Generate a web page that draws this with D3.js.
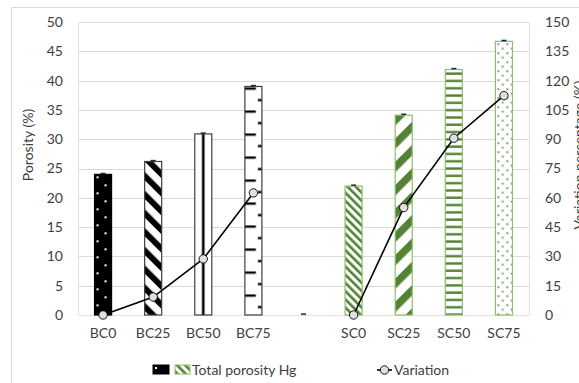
<!DOCTYPE html>
<head>
<meta charset="utf-8">
<script src="https://d3js.org/d3.v7.min.js"></script>
<style>
    *{ margin:0; padding:0; }
    body{ background:#fff; width:579px; height:383px; overflow:hidden; }
    svg text{ font-family: Lato, 'Noto Sans', sans-serif; fill:#404040; }
</style>
</head>
<body>
<svg id="chart" width="579" height="383"></svg>
<script>
    //data
    let categories = ["BC0", "BC25", "BC50", "BC75", "", "SC0", "SC25", "SC50", "SC75"];
    let porosity = [24.0, 26.2, 30.9, 39.0, 0, 22.0, 34.1, 41.9, 46.7];
    let errBars = [0.15, 0.15, 0.15, 0.15, 0.15, 0.15, 0.15, 0.15, 0.15];
    let variation = [0, 9.2, 28.7, 62.5, null, 0, 55.0, 90.5, 112.3];
    let leftTicks = [0, 5, 10, 15, 20, 25, 30, 35, 40, 45, 50];
    let rightTicks = [0, 15, 30, 45, 60, 75, 90, 105, 120, 135, 150];
    let patterns = ["dotsInv", "wideDown", "vert", "dashH", "none", "narrowDown", "wideUp", "horiz", "dots"];

    let svg = d3.select("#chart");
    let green = "#548235", greenEdge = "#8cbf68";

    //plot area
    let pLeft = 78, pRight = 529, pTop = 22, pBottom = 315;

    let x = d3.scaleBand()
        .domain(categories.map((c, i) => i))
        .range([pLeft, pRight])
        .paddingInner(0.66)
        .paddingOuter(0.33);
    let yL = d3.scaleLinear().domain([0, 50]).range([pBottom, pTop]);
    let yR = d3.scaleLinear().domain([0, 150]).range([pBottom, pTop]);

    //chart area border
    svg.append("path")
        .attr("d", "M11.5,383 V7.5 H579")
        .attr("fill", "none")
        .attr("stroke", "#d9d9d9");

    //gridlines
    svg.append("g").selectAll("line")
        .data(leftTicks)
        .enter().append("line")
        .attr("x1", pLeft).attr("x2", pRight)
        .attr("y1", d => Math.round(yL(d)) + 0.5)
        .attr("y2", d => Math.round(yL(d)) + 0.5)
        .attr("stroke", (d) => d == 0 ? "#bfbfbf" : "#d9d9d9");

    svg.append("rect")
        .attr("x", pLeft + 0.5).attr("y", pTop + 0.5)
        .attr("width", pRight - pLeft).attr("height", pBottom - pTop)
        .attr("fill", "none").attr("stroke", "#e3e3e3");

    //patterns, one per bar so that each starts at its bar
    let defs = svg.append("defs");
    let bw = x.bandwidth();

    let makePattern = (name, id, bx, by) => {
        let p = defs.append("pattern").attr("id", id).attr("patternUnits", "userSpaceOnUse");
        let bg = (w, h, c) => p.append("rect").attr("width", w).attr("height", h).attr("fill", c);
        if (name == "dotsInv") {
            p.attr("width", 16).attr("height", 16).attr("x", bx).attr("y", by);
            bg(16, 16, "#000");
            p.append("rect").attr("x", 2).attr("y", 2).attr("width", 2).attr("height", 2).attr("fill", "#fff");
            p.append("rect").attr("x", 10).attr("y", 10).attr("width", 2).attr("height", 2).attr("fill", "#fff");
        } else if (name == "wideDown" || name == "wideUp" || name == "narrowDown") {
            let period = name == "narrowDown" ? 5.8 : (name == "wideUp" ? 16.5 : 13.2);
            let col = name == "wideDown" ? "#000" : green;
            p.attr("width", period).attr("height", period)
                .attr("x", bx).attr("y", by)
                .attr("patternTransform", `rotate(${name == "wideUp" ? 45 : -45} ${bx} ${by})`);
            bg(period, period, "#fff");
            p.append("rect").attr("width", period * 0.45).attr("height", period).attr("fill", col);
        } else if (name == "vert") {
            p.attr("width", bw).attr("height", 10).attr("x", bx).attr("y", by);
            bg(bw, 10, "#fff");
            p.append("rect").attr("x", bw / 2 - 1.3).attr("width", 2.6).attr("height", 10).attr("fill", "#000");
        } else if (name == "dashH") {
            p.attr("width", bw).attr("height", 23).attr("x", bx).attr("y", by);
            bg(bw, 23, "#fff");
            p.append("rect").attr("x", 0).attr("y", 1).attr("width", 11).attr("height", 2.3).attr("fill", "#000");
            p.append("rect").attr("x", bw - 4).attr("y", 12.5).attr("width", 4).attr("height", 2.3).attr("fill", "#000");
        } else if (name == "horiz") {
            p.attr("width", 10).attr("height", 7.3).attr("x", bx).attr("y", by);
            bg(10, 7.3, "#fff");
            p.append("rect").attr("y", 3).attr("width", 10).attr("height", 2.4).attr("fill", green);
        } else if (name == "dots") {
            p.attr("width", 9).attr("height", 9).attr("x", bx).attr("y", by);
            bg(9, 9, "#fff");
            p.append("rect").attr("x", 2).attr("y", 2).attr("width", 1.7).attr("height", 1.7).attr("fill", green);
            p.append("rect").attr("x", 6.5).attr("y", 6.5).attr("width", 1.7).attr("height", 1.7).attr("fill", green);
        }
        return `url(#${id})`;
    };

    //bars
    let bars = svg.append("g").selectAll("rect")
        .data(porosity)
        .enter().append("rect")
        .attr("x", (d, i) => x(i))
        .attr("y", d => yL(d))
        .attr("width", bw)
        .attr("height", d => pBottom - yL(d))
        .attr("fill", (d, i) => patterns[i] == "none" ? "none" : makePattern(patterns[i], "p" + i, x(i), yL(d)))
        .attr("stroke", (d, i) => d == 0 ? "none" : (i < 4 ? (i == 0 ? "#000" : "#3f3f3f") : greenEdge))
        .attr("stroke-width", 1.2);

    //error bars (tiny caps)
    let eb = svg.append("g");
    porosity.forEach((d, i) => {
        let cx = x(i) + bw / 2;
        eb.append("line")
            .attr("x1", cx - 2.5).attr("x2", cx + 2.5)
            .attr("y1", yL(d + errBars[i])).attr("y2", yL(d + errBars[i]))
            .attr("stroke", "#262626").attr("stroke-width", 1.5);
    });

    //axes
    let gl = svg.append("g")
        .attr("transform", `translate(${pLeft},0)`)
        .call(d3.axisLeft(yL).tickValues(leftTicks).tickSize(0).tickPadding(15));
    let gr = svg.append("g")
        .attr("transform", `translate(${pRight},0)`)
        .call(d3.axisRight(yR).tickValues(rightTicks).tickSize(0).tickPadding(16));
    let gb = svg.append("g")
        .attr("transform", `translate(0,${pBottom})`)
        .call(d3.axisBottom(x).tickFormat(i => categories[i]).tickSize(0).tickPadding(13));
    [gl, gr, gb].forEach(g => {
        g.select(".domain").remove();
        g.selectAll("text").style("font-size", "14px").style("font-family", "Lato, sans-serif").attr("fill", "#404040");
    });

    //axis titles
    svg.append("text")
        .attr("transform", "translate(33,145) rotate(-90)")
        .attr("text-anchor", "middle")
        .style("font-size", "14px")
        .text("Porosity (%)");
    svg.append("text")
        .attr("transform", "translate(584,155) rotate(-90)")
        .attr("text-anchor", "middle")
        .style("font-size", "14px")
        .text("Variation percentage (%)");

    //variation line
    let line = d3.line()
        .defined(d => d != null)
        .x((d, i) => x(i) + bw / 2)
        .y(d => yR(d));
    svg.append("path")
        .datum(variation)
        .attr("d", line)
        .attr("fill", "none")
        .attr("stroke", "#000")
        .attr("stroke-width", 1.6);
    svg.append("g").selectAll("circle")
        .data(variation.map((v, i) => [v, i]).filter(d => d[0] != null))
        .enter().append("circle")
        .attr("cx", d => x(d[1]) + bw / 2)
        .attr("cy", d => yR(d[0]))
        .attr("r", 4.2)
        .attr("fill", "#e0e0e0")
        .attr("stroke", "#000")
        .attr("stroke-width", 0.9);

    //legend
    let lg = svg.append("g");
    lg.append("rect").attr("x", 153).attr("y", 365).attr("width", 16).attr("height", 9)
        .attr("fill", makePattern("dotsInv", "lg0", 153, 365)).attr("stroke", "#000");
    lg.append("rect").attr("x", 175).attr("y", 365).attr("width", 15).attr("height", 9)
        .attr("fill", makePattern("narrowDown", "lg1", 175, 365)).attr("stroke", greenEdge);
    lg.append("text").attr("x", 192).attr("y", 375).style("font-size", "14px").text("Total porosity Hg");
    lg.append("line").attr("x1", 377).attr("x2", 392).attr("y1", 370).attr("y2", 370)
        .attr("stroke", "#000").attr("stroke-width", 1.6);
    lg.append("circle").attr("cx", 384.5).attr("cy", 370).attr("r", 4.2)
        .attr("fill", "#e0e0e0").attr("stroke", "#000").attr("stroke-width", 0.9);
    lg.append("text").attr("x", 394).attr("y", 375).style("font-size", "14px").text("Variation");
</script>
</body>
